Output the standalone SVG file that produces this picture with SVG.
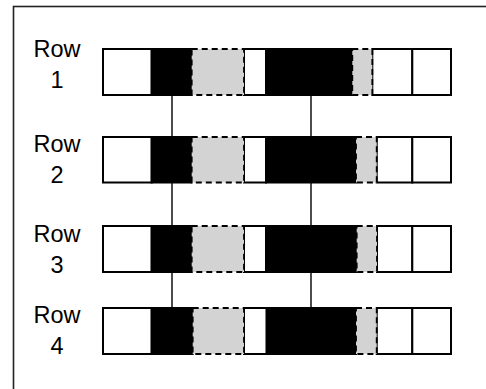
<svg xmlns="http://www.w3.org/2000/svg" width="486" height="389" viewBox="0 0 486 389">
<style>
.frame{fill:none;stroke:#222;stroke-width:1.6}
.w{fill:#fff;stroke:#000;stroke-width:2}
.b{fill:#000;stroke:#000;stroke-width:2}
.g{fill:#d3d3d3;stroke:#000;stroke-width:1.8;stroke-dasharray:6 4}
.lbl{font-family:"Liberation Sans",Arial,sans-serif;font-size:23.5px;text-anchor:middle;fill:#000}
.conn{stroke:#000;stroke-width:1.4;fill:none}
</style>
<rect class="frame" x="13.5" y="6.5" width="520" height="420"/>
<g id="connectors">
<line class="conn" x1="172" y1="95" x2="172" y2="137"/>
<line class="conn" x1="311" y1="95" x2="311" y2="137"/>
<line class="conn" x1="172" y1="182" x2="172" y2="226"/>
<line class="conn" x1="311" y1="182" x2="311" y2="226"/>
<line class="conn" x1="172" y1="272" x2="172" y2="308"/>
<line class="conn" x1="311" y1="272" x2="311" y2="308"/>
</g>
<g id="row1">
<text class="lbl" x="57" y="57">Row</text>
<text class="lbl" x="57" y="88">1</text>
<rect class="w" x="103" y="49" width="48.7" height="46"/>
<rect class="b" x="151.7" y="49" width="40" height="46"/>
<rect class="w" x="244" y="49" width="22" height="46"/>
<rect class="b" x="266" y="49" width="86.3" height="46"/>
<rect class="w" x="372.3" y="49" width="40" height="46"/>
<rect class="w" x="412.3" y="49" width="38.7" height="46"/>
<rect class="g" x="191.7" y="49" width="52.3" height="46"/>
<rect class="g" x="352.3" y="49" width="20" height="46"/>
</g>
<g id="row2">
<text class="lbl" x="57" y="152">Row</text>
<text class="lbl" x="57" y="183">2</text>
<rect class="w" x="103" y="137" width="48.7" height="45.5"/>
<rect class="b" x="151.7" y="137" width="40" height="45.5"/>
<rect class="w" x="244" y="137" width="22" height="45.5"/>
<rect class="b" x="266" y="137" width="90" height="45.5"/>
<rect class="w" x="376.7" y="137" width="35.6" height="45.5"/>
<rect class="w" x="412.3" y="137" width="38.7" height="45.5"/>
<rect class="g" x="191.7" y="137" width="52.3" height="45.5"/>
<rect class="g" x="356" y="137" width="20.7" height="45.5"/>
</g>
<g id="row3">
<text class="lbl" x="57" y="242">Row</text>
<text class="lbl" x="57" y="273">3</text>
<rect class="w" x="103" y="226" width="48.7" height="46"/>
<rect class="b" x="151.7" y="226" width="40" height="46"/>
<rect class="w" x="244" y="226" width="22" height="46"/>
<rect class="b" x="266" y="226" width="90.7" height="46"/>
<rect class="w" x="377" y="226" width="35.3" height="46"/>
<rect class="w" x="412.3" y="226" width="38.7" height="46"/>
<rect class="g" x="191.7" y="226" width="52.3" height="46"/>
<rect class="g" x="356.7" y="226" width="20.3" height="46"/>
</g>
<g id="row4">
<text class="lbl" x="57" y="323">Row</text>
<text class="lbl" x="57" y="354">4</text>
<rect class="w" x="103" y="308" width="48.7" height="46"/>
<rect class="b" x="151.7" y="308" width="41" height="46"/>
<rect class="w" x="244" y="308" width="22.7" height="46"/>
<rect class="b" x="266.7" y="308" width="89.3" height="46"/>
<rect class="w" x="376.7" y="308" width="35.6" height="46"/>
<rect class="w" x="412.3" y="308" width="38.7" height="46"/>
<rect class="g" x="192.7" y="308" width="51.3" height="46"/>
<rect class="g" x="356" y="308" width="20.7" height="46"/>
</g>
</svg>
